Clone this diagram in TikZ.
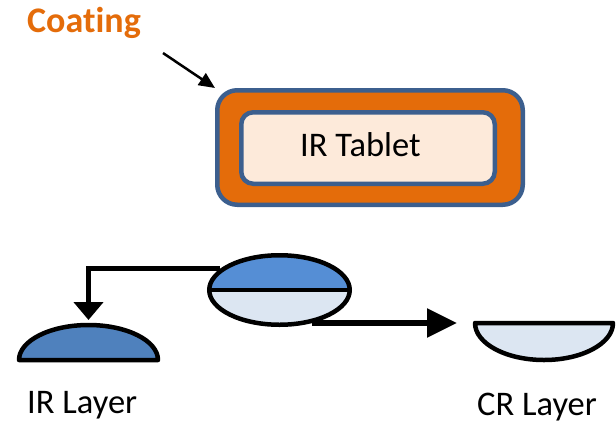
\documentclass[tikz,border=0pt]{standalone}
\usepackage{fontspec}
\setmainfont{Carlito}[Ligatures=CommonOff]
\usetikzlibrary{arrows.meta,shapes.geometric,calc}

\definecolor{coatorange}{HTML}{E46C0A}
\definecolor{edgeblue}{HTML}{3C5F8E}
\definecolor{tabletfill}{HTML}{FDEADA}
\definecolor{irblue}{HTML}{4F81BD}
\definecolor{topblue}{HTML}{558ED5}
\definecolor{crblue}{HTML}{DCE6F2}

\tikzset{
  labeltext/.style={font=\fontsize{34.5}{40}\selectfont, inner sep=0pt, anchor=base west},
  layeroutline/.style={draw=black, line width=4.5pt, line join=round},
  bigarrow/.style={line width=5.5pt, -{Triangle[length=18pt,width=29pt]}},
  sidearrow/.style={line width=5.5pt, -{Triangle[length=30pt,width=28pt]}},
}

\begin{document}
\begin{tikzpicture}[x=1pt, y=-1pt]
  \useasboundingbox (0,0) rectangle (616,424);

  % coating label and pointer
  \node[labeltext, font=\fontsize{36}{42}\selectfont\bfseries, text=coatorange] (coat) at (27,32) {Coating};

  % coated tablet
  \node[draw=edgeblue, fill=coatorange, line width=4.5pt, rounded corners=20pt,
        minimum width=305.5pt, minimum height=114.5pt] (outer) at (370,147.5) {};
  \node[draw=edgeblue, fill=tabletfill, line width=4.5pt, rounded corners=12pt,
        minimum width=253.5pt, minimum height=71.5pt] (inner) at (368,148) {};
  \node[labeltext] (lbl) at (300,156) {IR Tablet};

  \coordinate (cstart) at (163,53);
  \draw[line width=2.5pt, -{Triangle[length=16pt,width=14pt]}] (cstart) -- (outer.north west);

  % bilayer tablet
  \node[ellipse, draw=black, line width=4.5pt, inner sep=0pt,
        minimum width=140.5pt, minimum height=69.5pt,
        path picture={
          \fill[topblue] (path picture bounding box.north west) rectangle (path picture bounding box.east);
          \fill[crblue] (path picture bounding box.west) rectangle (path picture bounding box.south east);
          \draw[line width=4.5pt] (path picture bounding box.west) -- (path picture bounding box.east);
        }] (ell) at (279.5,290) {};

  % separated layers
  \draw[layeroutline, fill=irblue] (19,360) arc[start angle=180, end angle=360, x radius=69.5, y radius=35] -- cycle;
  \coordinate (irtop) at (88.5,320);
  \draw[layeroutline, fill=crblue] (475,323) arc[start angle=180, end angle=0, x radius=69, y radius=37] -- cycle;
  \coordinate (crtip) at (457,325);

  \node[labeltext] (irl) at (27,413) {IR Layer};
  \node[labeltext] (crl) at (477,415) {CR Layer};

  % connectors
  \draw[bigarrow] (ell.160) -| (irtop);
  \draw[sidearrow] (ell.-45) -- (ell.-45 -| crtip);
\end{tikzpicture}
\end{document}
